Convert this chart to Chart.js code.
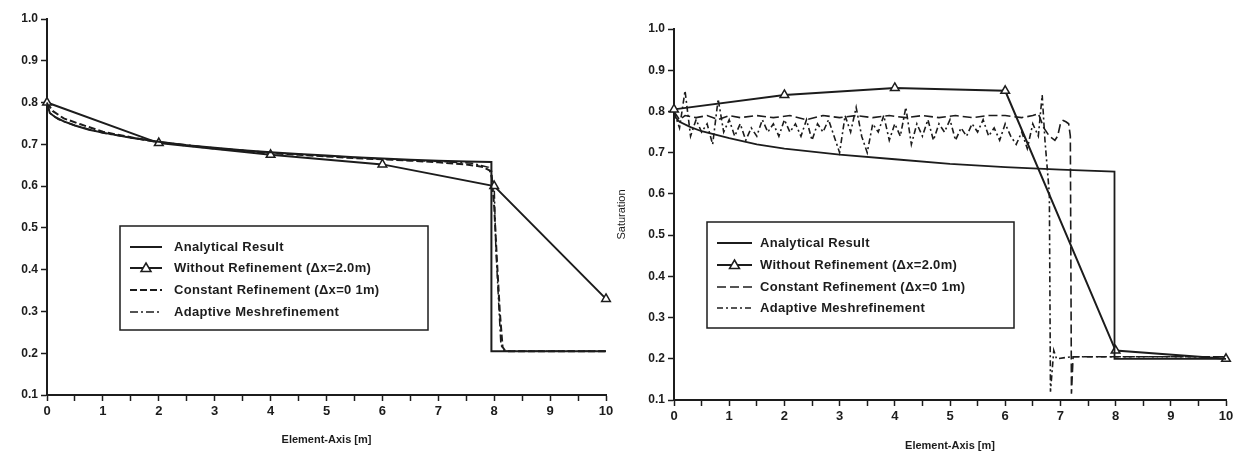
<!DOCTYPE html>
<html>
<head>
<meta charset="utf-8">
<script src="https://cdn.jsdelivr.net/npm/chart.js@4.4.0/dist/chart.umd.min.js"></script>
<style>
  body { margin: 0; background: #fff; }
  #wrap { position: relative; width: 1245px; height: 457px; overflow: hidden; }
  #leftChart { position: absolute; left: 0; top: 0; }
  #rightChart { position: absolute; left: 615px; top: 0; }
</style>
</head>
<body>
<div id="wrap">
  <canvas id="leftChart" width="620" height="457"></canvas>
  <canvas id="rightChart" width="630" height="457"></canvas>
</div>
<script>
// === Legend labels / axis ===
const seriesNames = [
  "Analytical Result",
  "Without Refinement (\u0394x=2.0m)",
  "Constant Refinement (\u0394x=0 1m)",
  "Adaptive Meshrefinement",
];
const xTitle = "Element-Axis [m]";
const yTitleRight = "Saturation";

// === Left panel data ===
const leftAnalyticX = [0, 0.05, 0.15, 0.3, 0.5, 0.75, 1, 1.5, 2, 2.5, 3, 3.5, 4, 4.5, 5, 5.5, 6, 6.5, 7, 7.5, 7.95, 7.95, 10];
const leftAnalyticY = [0.80, 0.775, 0.765, 0.755, 0.745, 0.735, 0.728, 0.716, 0.706, 0.698, 0.692, 0.686, 0.681, 0.677, 0.673, 0.669, 0.666, 0.663, 0.661, 0.659, 0.658, 0.205, 0.205];

const leftCoarseX = [0, 2, 4, 6, 8, 10];
const leftCoarseY = [0.80, 0.703, 0.675, 0.652, 0.60, 0.33];

const leftConstX = [0, 0.1, 0.3, 0.6, 1, 1.5, 2, 2.5, 3, 3.5, 4, 4.5, 5, 5.5, 6, 6.5, 7, 7.5, 7.8, 7.95, 8.0, 8.05, 8.1, 8.15, 8.2, 10];
const leftConstY = [0.80, 0.78, 0.762, 0.748, 0.73, 0.717, 0.705, 0.697, 0.69, 0.685, 0.679, 0.675, 0.671, 0.667, 0.664, 0.661, 0.657, 0.652, 0.646, 0.635, 0.55, 0.42, 0.30, 0.215, 0.205, 0.205];

const leftAdaptX = [0, 0.05, 0.2, 0.5, 1, 1.5, 2, 3, 4, 5, 6, 7, 7.6, 7.9, 8.0, 8.03, 8.08, 8.12, 8.18, 10];
const leftAdaptY = [0.80, 0.775, 0.76, 0.745, 0.727, 0.716, 0.706, 0.691, 0.68, 0.672, 0.665, 0.659, 0.655, 0.645, 0.60, 0.45, 0.32, 0.22, 0.205, 0.205];

// === Right panel data ===
const rightAnalyticX = [0, 0.1, 0.3, 0.5, 1, 1.5, 2, 3, 4, 5, 6, 7, 7.98, 7.98, 10];
const rightAnalyticY = [0.79, 0.775, 0.762, 0.752, 0.735, 0.72, 0.71, 0.695, 0.684, 0.673, 0.665, 0.659, 0.654, 0.20, 0.20];

const rightCoarseX = [0, 2, 4, 6, 8, 10];
const rightCoarseY = [0.805, 0.84, 0.857, 0.85, 0.22, 0.20];

const rightConstX = [0, 0.1, 0.2, 0.4, 0.6, 0.8, 1.0, 1.2, 1.5, 1.8, 2.1, 2.4, 2.7, 3.0, 3.3, 3.6, 3.9, 4.2, 4.5, 4.8, 5.1, 5.4, 5.7, 6.0, 6.3, 6.5, 6.6, 6.7, 6.8, 6.9, 6.95, 7.0, 7.05, 7.1, 7.15, 7.18, 7.2, 7.23, 10];
const rightConstY = [0.80, 0.78, 0.79, 0.785, 0.79, 0.78, 0.79, 0.785, 0.79, 0.785, 0.79, 0.78, 0.79, 0.785, 0.79, 0.785, 0.79, 0.785, 0.79, 0.785, 0.79, 0.785, 0.79, 0.79, 0.785, 0.79, 0.795, 0.76, 0.74, 0.73, 0.74, 0.77, 0.778, 0.775, 0.77, 0.74, 0.115, 0.205, 0.205];

const rightAdaptX = [0, 0.1, 0.2, 0.3, 0.4, 0.5, 0.6, 0.7, 0.8, 0.9, 1.0, 1.1, 1.2, 1.3, 1.4, 1.5, 1.6, 1.7, 1.8, 1.9,
  2.0, 2.1, 2.2, 2.3, 2.4, 2.5, 2.6, 2.7, 2.8, 2.9, 3.0, 3.1, 3.2, 3.3, 3.4, 3.5, 3.6, 3.7, 3.8, 3.9,
  4.0, 4.1, 4.2, 4.3, 4.4, 4.5, 4.6, 4.7, 4.8, 4.9, 5.0, 5.1, 5.2, 5.3, 5.4, 5.5, 5.6, 5.7, 5.8, 5.9,
  6.0, 6.1, 6.2, 6.3, 6.4, 6.5, 6.6, 6.67, 6.72, 6.8, 6.82, 6.88, 6.93, 7.2, 10];
const rightAdaptY = [0.80, 0.76, 0.85, 0.74, 0.78, 0.75, 0.77, 0.72, 0.83, 0.75, 0.78, 0.74, 0.77, 0.73, 0.76, 0.74, 0.78, 0.75, 0.77, 0.74,
  0.78, 0.75, 0.77, 0.74, 0.78, 0.73, 0.77, 0.75, 0.78, 0.74, 0.70, 0.79, 0.75, 0.81, 0.74, 0.70, 0.77, 0.75, 0.79, 0.73,
  0.77, 0.74, 0.81, 0.72, 0.77, 0.74, 0.78, 0.73, 0.77, 0.75, 0.78, 0.73, 0.76, 0.74, 0.77, 0.75, 0.78, 0.74, 0.76, 0.73,
  0.77, 0.74, 0.72, 0.75, 0.71, 0.77, 0.74, 0.84, 0.73, 0.60, 0.12, 0.22, 0.20, 0.205, 0.205];

// === helpers ===
const INK = "#1c1c1c";
const pts = (xs, ys) => xs.map((x, i) => ({ x: x, y: ys[i] }));

function lineSet(label, xs, ys, width, dash, marker) {
  return {
    label: label,
    data: pts(xs, ys),
    showLine: true,
    clip: 8,
    borderColor: INK,
    borderWidth: width,
    borderDash: dash,
    backgroundColor: "#fff",
    pointStyle: "triangle",
    pointRadius: marker ? 5 : 0,
    pointBorderColor: INK,
    pointBorderWidth: 1.5,
    pointHoverRadius: 0,
    tension: 0,
  };
}

// legend drawn inside the plot with a frame
const boxLegend = {
  id: "boxLegend",
  afterDraw(chart, args, opts) {
    const c = chart.ctx;
    c.save();
    c.strokeStyle = INK;
    c.lineWidth = 1.5;
    c.setLineDash([]);
    c.fillStyle = "#fff";
    c.fillRect(opts.x, opts.y, opts.w, opts.h);
    c.strokeRect(opts.x, opts.y, opts.w, opts.h);
    chart.data.datasets.forEach((ds, i) => {
      const y = opts.rows[i];
      c.strokeStyle = INK;
      c.lineWidth = ds.borderWidth;
      c.setLineDash(ds.borderDash || []);
      c.beginPath();
      c.moveTo(opts.sx, y);
      c.lineTo(opts.sx + opts.sw, y);
      c.stroke();
      c.setLineDash([]);
      if (ds.pointRadius) {
        const cx = opts.sx + opts.sw / 2;
        c.beginPath();
        c.moveTo(cx, y - 5);
        c.lineTo(cx + 5, y + 3.5);
        c.lineTo(cx - 5, y + 3.5);
        c.closePath();
        c.fillStyle = "#fff";
        c.fill();
        c.lineWidth = 1.5;
        c.stroke();
      }
      c.fillStyle = INK;
      c.font = opts.font;
      c.letterSpacing = "0.3px";
      c.textBaseline = "middle";
      c.fillText(ds.label, opts.tx, y);
    });
    c.restore();
  },
};

function makeOptions(cfg) {
  return {
    responsive: false,
    devicePixelRatio: 1,
    animation: false,
    layout: { padding: cfg.pad },
    plugins: {
      legend: { display: false },
      tooltip: { enabled: false },
      boxLegend: cfg.legend,
    },
    scales: {
      x: {
        type: "linear",
        min: 0,
        max: 10,
        afterFit: (s) => { s.height = cfg.xh; },
        border: { display: true, color: INK, width: 2 },
        grid: { drawOnChartArea: false, drawTicks: true, tickLength: 6, tickColor: INK, tickWidth: 1.5 },
        ticks: {
          stepSize: 0.5,
          autoSkip: false,
          maxRotation: 0,
          padding: 3,
          color: INK,
          font: { family: "Liberation Sans", size: 13, weight: "bold" },
          callback: (v) => (Number.isInteger(v) ? String(v) : ""),
        },
        title: {
          display: true,
          text: xTitle,
          color: INK,
          padding: { top: 6, bottom: 0 },
          font: { family: "Liberation Sans", size: 11, weight: "bold" },
        },
      },
      y: {
        type: "linear",
        min: 0.1,
        max: 1.0,
        afterFit: (s) => { s.width = cfg.yw; },
        border: { display: true, color: INK, width: 2 },
        grid: { drawOnChartArea: false, drawTicks: true, tickLength: 6, tickColor: INK, tickWidth: 1.5 },
        ticks: {
          stepSize: 0.1,
          padding: 3,
          color: INK,
          font: { family: "Liberation Sans", size: 12, weight: "bold" },
          callback: (v) => v.toFixed(1),
        },
        title: {
          display: !!cfg.yTitle,
          text: cfg.yTitle || "",
          color: INK,
          padding: { top: 0, bottom: 2 },
          font: { family: "Liberation Sans", size: 11 },
        },
      },
    },
  };
}

// === Left chart ===
new Chart(document.getElementById("leftChart").getContext("2d"), {
  type: "scatter",
  data: {
    datasets: [
      lineSet(seriesNames[0], leftAnalyticX, leftAnalyticY, 2, []),
      lineSet(seriesNames[1], leftCoarseX, leftCoarseY, 2, [], true),
      lineSet(seriesNames[2], leftConstX, leftConstY, 2, [7, 3]),
      lineSet(seriesNames[3], leftAdaptX, leftAdaptY, 1.5, [8, 3, 2, 3]),
    ],
  },
  options: makeOptions({
    pad: { top: 19, right: 14, bottom: 10, left: 0 },
    xh: 52,
    yw: 47,
    legend: { x: 120, y: 226, w: 308, h: 104, sx: 130, sw: 32, tx: 174, rows: [247, 268, 290, 312], font: "bold 13px 'Liberation Sans'" },
  }),
  plugins: [boxLegend],
});

// === Right chart ===
new Chart(document.getElementById("rightChart").getContext("2d"), {
  type: "scatter",
  data: {
    datasets: [
      lineSet(seriesNames[0], rightAnalyticX, rightAnalyticY, 1.8, []),
      lineSet(seriesNames[1], rightCoarseX, rightCoarseY, 2, [], true),
      lineSet(seriesNames[2], rightConstX, rightConstY, 1.6, [9, 4]),
      lineSet(seriesNames[3], rightAdaptX, rightAdaptY, 1.6, [6, 3, 2, 3]),
    ],
  },
  options: makeOptions({
    pad: { top: 29, right: 19, bottom: 4, left: 0 },
    xh: 53,
    yw: 59,
    yTitle: yTitleRight,
    legend: { x: 92, y: 222, w: 307, h: 106, sx: 102, sw: 35, tx: 145, rows: [243, 265, 287, 308], font: "bold 13px 'Liberation Sans'" },
  }),
  plugins: [boxLegend],
});
</script>
</body>
</html>
